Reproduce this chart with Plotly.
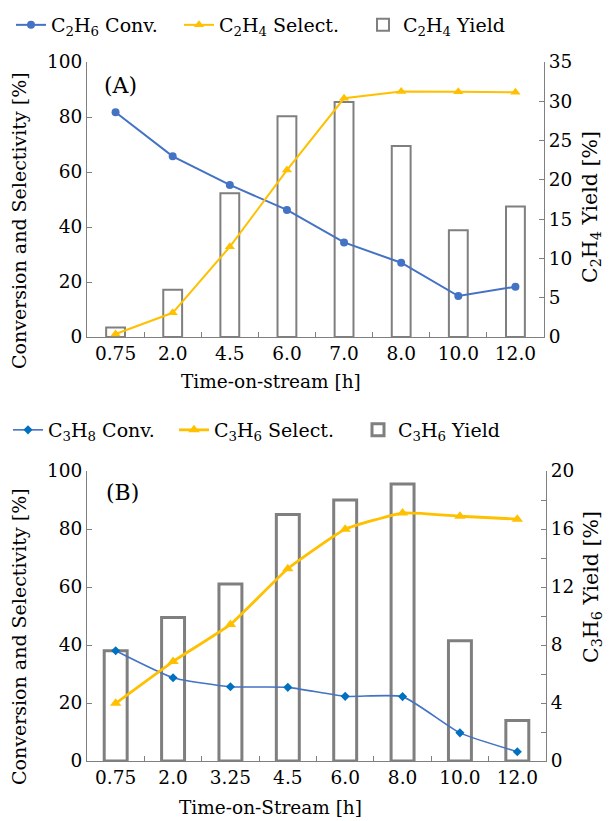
import plotly.graph_objects as go

# ---------------- data ----------------
time_a = ["0.75", "2.0", "4.5", "6.0", "7.0", "8.0", "10.0", "12.0"]
c2h6_conv = [81.7, 65.7, 55.3, 46.2, 34.4, 27.0, 14.9, 18.3]
c2h4_sel = [1.1, 8.8, 32.8, 60.7, 86.8, 89.3, 89.2, 89.0]
c2h4_yield = [1.2, 6.0, 18.3, 28.1, 29.9, 24.3, 13.6, 16.6]

time_b = ["0.75", "2.0", "3.25", "4.5", "6.0", "8.0", "10.0", "12.0"]
c3h8_conv = [38.0, 28.7, 25.6, 25.4, 22.3, 22.2, 9.7, 3.2]
c3h6_sel = [19.9, 34.3, 47.1, 66.3, 79.9, 85.5, 84.4, 83.4]
c3h6_yield = [7.6, 9.9, 12.2, 17.0, 18.0, 19.1, 8.3, 2.8]

# ---------------- style ----------------
W, H = 609, 821
FONT = "DejaVu Serif"
BLUE = "#4472C4"
BLUE_B = "#0070C0"
YELLOW = "#FFC000"
GREY = "#7F7F7F"
AX = "#808080"


def px_x(p):
    return p / W


def px_y(p):
    return (H - p) / H


fig = go.Figure()

# Panel A
fig.add_trace(go.Scatter(x=time_a, y=c2h6_conv, xaxis="x", yaxis="y2", mode="lines+markers",
                         name="C<sub>2</sub>H<sub>6</sub> Conv.", legend="legend", legendwidth=123,
                         line=dict(color=BLUE, width=2),
                         marker=dict(symbol="circle", size=8, color=BLUE)))
fig.add_trace(go.Scatter(x=time_a, y=c2h4_sel, xaxis="x", yaxis="y2", mode="lines+markers",
                         name="C<sub>2</sub>H<sub>4</sub> Select.", legend="legend", legendwidth=139,
                         line=dict(color=YELLOW, width=2),
                         marker=dict(symbol="triangle-up", size=9, color=YELLOW)))
fig.add_trace(go.Bar(x=time_a, y=c2h4_yield, xaxis="x", yaxis="y",
                     name="C<sub>2</sub>H<sub>4</sub> Yield", legend="legend", legendwidth=130,
                     width=0.33, marker=dict(color="white", line=dict(color=GREY, width=2))))

# Panel B
fig.add_trace(go.Scatter(x=time_b, y=c3h8_conv, xaxis="x2", yaxis="y4", mode="lines+markers",
                         name="C<sub>3</sub>H<sub>8</sub> Conv.", legend="legend2", legendwidth=121,
                         line=dict(color=BLUE, width=1.6, shape="spline", smoothing=0.5),
                         marker=dict(symbol="diamond", size=7, color=BLUE_B)))
fig.add_trace(go.Scatter(x=time_b, y=c3h6_sel, xaxis="x2", yaxis="y4", mode="lines+markers",
                         name="C<sub>3</sub>H<sub>6</sub> Select.", legend="legend2", legendwidth=139,
                         line=dict(color=YELLOW, width=2.8, shape="spline", smoothing=0.4),
                         marker=dict(symbol="triangle-up", size=10, color=YELLOW)))
fig.add_trace(go.Bar(x=time_b, y=c3h6_yield, xaxis="x2", yaxis="y3",
                     name="C<sub>3</sub>H<sub>6</sub> Yield", legend="legend2", legendwidth=130,
                     width=0.40, marker=dict(color="white", line=dict(color=GREY, width=3))))

tickfont = dict(family=FONT, size=18.5, color="black")
common_x = dict(type="category", range=[-0.5, 7.5], showline=True, linecolor=AX, linewidth=1,
                ticks="inside", tickson="boundaries", ticklen=5, tickcolor=AX,
                tickfont=tickfont, showgrid=False, zeroline=False, automargin=False)
common_y = dict(showline=True, linecolor=AX, linewidth=1, ticks="inside", ticklen=5,
                tickcolor=AX, tickfont=tickfont, showgrid=False, zeroline=False,
                automargin=False)

legend_common = dict(orientation="h", xanchor="left", yanchor="middle",
                     font=dict(family=FONT, size=19, color="black"),
                     entrywidthmode="pixels", itemwidth=30,
                     bgcolor="rgba(0,0,0,0)", traceorder="normal")

fig.update_layout(
    width=W, height=H, autosize=False,
    margin=dict(l=0, r=0, t=0, b=0, pad=0, autoexpand=False),
    paper_bgcolor="white", plot_bgcolor="white",
    font=dict(family=FONT, size=19, color="black"),
    barmode="overlay",
    showlegend=True,
    xaxis=dict(domain=[px_x(87), px_x(544)], anchor="y", **common_x),
    yaxis=dict(domain=[px_y(337), px_y(62)], anchor="x", side="right",
               range=[0, 35], dtick=5, **common_y),
    yaxis2=dict(overlaying="y", anchor="x", side="left", range=[0, 100], dtick=20, **common_y),
    xaxis2=dict(domain=[px_x(87), px_x(546)], anchor="y3", **common_x),
    yaxis3=dict(domain=[px_y(761), px_y(471)], anchor="x2", side="right",
                range=[0, 20], dtick=4,
                minor=dict(dtick=2, ticks="inside", ticklen=5, tickcolor=AX, showgrid=False),
                **common_y),
    yaxis4=dict(overlaying="y3", anchor="x2", side="left", range=[0, 100], dtick=20, **common_y),
    legend=dict(x=px_x(11), y=px_y(25), **legend_common),
    legend2=dict(x=px_x(8), y=px_y(430), **legend_common),
)

title_font = dict(family=FONT, size=18.5, color="black")
side_font = dict(family=FONT, size=19, color="black")
right_font = dict(family=FONT, size=20.5, color="black")
annotations = [
    dict(text="(A)", x=px_x(102), y=px_y(85), xanchor="left", yanchor="middle",
         font=dict(family=FONT, size=22, color="black")),
    dict(text="(B)", x=px_x(104), y=px_y(492), xanchor="left", yanchor="middle",
         font=dict(family=FONT, size=22, color="black")),
    dict(text="Time-on-stream [h]", x=px_x(271), y=px_y(381), xanchor="center", yanchor="middle",
         font=title_font),
    dict(text="Time-on-Stream [h]", x=px_x(270), y=px_y(807), xanchor="center", yanchor="middle",
         font=title_font),
    dict(text="Conversion and Selectivity [%]", x=px_x(19), y=px_y(221), textangle=-90,
         xanchor="center", yanchor="middle", font=side_font),
    dict(text="Conversion and Selectivity [%]", x=px_x(19), y=px_y(637), textangle=-90,
         xanchor="center", yanchor="middle", font=side_font),
    dict(text="C<sub>2</sub>H<sub>4</sub> Yield [%]", x=px_x(591), y=px_y(207), textangle=-90,
         xanchor="center", yanchor="middle", font=right_font),
    dict(text="C<sub>3</sub>H<sub>6</sub> Yield [%]", x=px_x(592), y=px_y(587), textangle=-90,
         xanchor="center", yanchor="middle", font=right_font),
]
for a in annotations:
    a.update(xref="paper", yref="paper", showarrow=False)
fig.update_layout(annotations=annotations)

# the page has a default 8px body margin; remove it so the figure fills the window exactly
fig.write_html("out.html", config={"displayModeBar": False},
               post_script="document.body.style.margin='0px';")
